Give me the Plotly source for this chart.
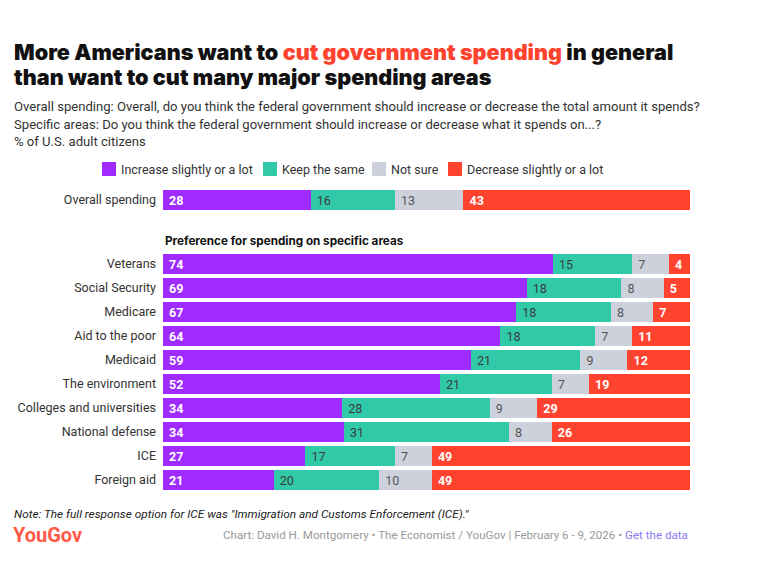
import plotly.graph_objects as go

categories = ["Overall spending", "Veterans", "Social Security", "Medicare", "Aid to the poor",
              "Medicaid", "The environment", "Colleges and universities", "National defense",
              "ICE", "Foreign aid"]
increase = [28, 74, 69, 67, 64, 59, 52, 34, 34, 27, 21]
keep = [16, 15, 18, 18, 18, 21, 21, 28, 31, 17, 20]
not_sure = [13, 7, 8, 8, 7, 9, 7, 9, 8, 7, 10]
decrease = [43, 4, 5, 7, 11, 12, 19, 29, 26, 49, 49]
series_names = ["Increase slightly or a lot", "Keep the same", "Not sure", "Decrease slightly or a lot"]
colors = ["#9f2bff", "#30caa8", "#cdd1db", "#ff432e"]
text_colors = ["#ffffff", "#3a3a3a", "#555555", "#ffffff"]
text_weights = ["bold", "normal", "normal", "bold"]

W, H = 763, 571
L, R = 163, 690
T, B = 188, 492

# row positions: overall then a gap, then specific areas
ypos = [0] + [2.667 + i for i in range(len(categories) - 1)]

fig = go.Figure()
for vals, name, col, tc, tw in zip([increase, keep, not_sure, decrease], series_names, colors, text_colors, text_weights):
    fig.add_trace(go.Bar(
        y=ypos, x=vals, orientation="h", name=name,
        marker=dict(color=col, line=dict(width=0)),
        width=0.83,
        text=[str(v) for v in vals],
        texttemplate=" %{text}",
        textposition="inside", insidetextanchor="start",
        textfont=dict(color=tc, size=12.5, family="Roboto", weight=tw),
        textangle=0, constraintext="none",
        hoverinfo="skip", showlegend=False,
    ))

def px(x):
    return (x - L) / (R - L)

def py(y):
    return (B - y) / (B - T)

ann = []
shapes = []
ann.append(dict(x=px(12), y=py(52), xref="paper", yref="paper", xanchor="left", yanchor="middle",
                showarrow=False, align="left",
                text="More Americans want to <span style='color:#ff432e'>cut government spending</span> in general",
                font=dict(family="Inter", size=21.6, color="#111111", weight=900)))
ann.append(dict(x=px(12), y=py(76.5), xref="paper", yref="paper", xanchor="left", yanchor="middle",
                showarrow=False, align="left",
                text="than want to cut many major spending areas",
                font=dict(family="Inter", size=21.6, color="#111111", weight=900)))
subs = ["Overall spending: Overall, do you think the federal government should increase or decrease the total amount it spends?",
        "Specific areas: Do you think the federal government should increase or decrease what it spends on...?",
        "% of U.S. adult citizens"]
for s, yy in zip(subs, [106, 124, 141]):
    ann.append(dict(x=px(12), y=py(yy), xref="paper", yref="paper", xanchor="left", yanchor="middle",
                    showarrow=False, text=s, font=dict(family="Roboto", size=13.1, color="#333333")))

# custom legend
leg_x = [102, 263, 372, 448]
for lx, name, col in zip(leg_x, series_names, colors):
    shapes.append(dict(type="rect", xref="paper", yref="paper", x0=px(lx), x1=px(lx + 14),
                       y0=py(176), y1=py(162), fillcolor=col, line=dict(width=0)))
    ann.append(dict(x=px(lx + 17), y=py(169.5), xref="paper", yref="paper", xanchor="left", yanchor="middle",
                    showarrow=False, text=name, font=dict(family="Roboto", size=12.5, color="#333333")))

ann.append(dict(x=0, y=py(241), xref="paper", yref="paper", xanchor="left", yanchor="middle",
                showarrow=False, text="<b>Preference for spending on specific areas</b>",
                font=dict(family="Inter", size=11.7, color="#111111")))

ann.append(dict(x=px(12), y=py(514), xref="paper", yref="paper", xanchor="left", yanchor="middle",
                showarrow=False, text="<i>Note: The full response option for ICE was \"Immigration and Customs Enforcement (ICE).\"</i>",
                font=dict(family="Roboto", size=11.8, color="#222222")))
ann.append(dict(x=px(11), y=py(535), xref="paper", yref="paper", xanchor="left", yanchor="middle",
                showarrow=False, text="YouGov",
                font=dict(family="Roboto", size=20, color="#ff5a4a", weight="bold")))
ann.append(dict(x=1, y=py(535), xref="paper", yref="paper", xanchor="right", yanchor="middle",
                showarrow=False,
                text="Chart: David H. Montgomery • The Economist / YouGov | February 6 - 9, 2026 • <span style='color:#8b7cf0'>Get the data</span>",
                font=dict(family="Roboto", size=11.6, color="#9a9a9a")))

fig.update_layout(
    barmode="stack", barnorm="percent",
    width=W, height=H,
    margin=dict(l=L, r=W - R, t=T, b=H - B, pad=0),
    paper_bgcolor="white", plot_bgcolor="white",
    xaxis=dict(range=[0, 100], visible=False, fixedrange=True),
    yaxis=dict(range=[ypos[-1] + 0.5, -0.5], tickvals=ypos, ticktext=categories,
               showgrid=False, zeroline=False, showline=False, ticks="", ticklabelstandoff=6,
               tickfont=dict(family="Roboto", size=12.5, color="#333333")),
    uniformtext=dict(mode=False),
    annotations=ann, shapes=shapes, showlegend=False,
    font=dict(family="Roboto"),
)

fig.write_html("out.html")
